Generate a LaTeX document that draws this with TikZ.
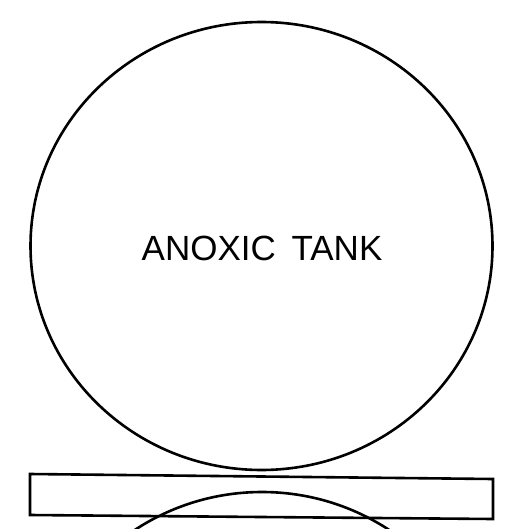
\documentclass[tikz,border=0pt]{standalone}
\usepackage{fontspec}
\setmainfont{Liberation Sans}
\usepackage{tikz}
\tikzset{tankline/.style={line width=2.6pt,black}}

\begin{document}
\begin{tikzpicture}[x=1pt,y=-1pt]
\useasboundingbox (0,0) rectangle (507,529);
\clip (0,0) rectangle (507,529);
\draw[tankline] (261.5,246) ellipse (231 and 224);
\draw[tankline] (30,474)--(493,479)--(493,519)--(30,515)--cycle;
\draw[tankline] (262,724) circle (232);
\node[font=\fontsize{35}{40}\selectfont,inner sep=0pt] (tank) at (262,248) {ANOXIC\hspace{0.45em}TANK};
\end{tikzpicture}
\end{document}
